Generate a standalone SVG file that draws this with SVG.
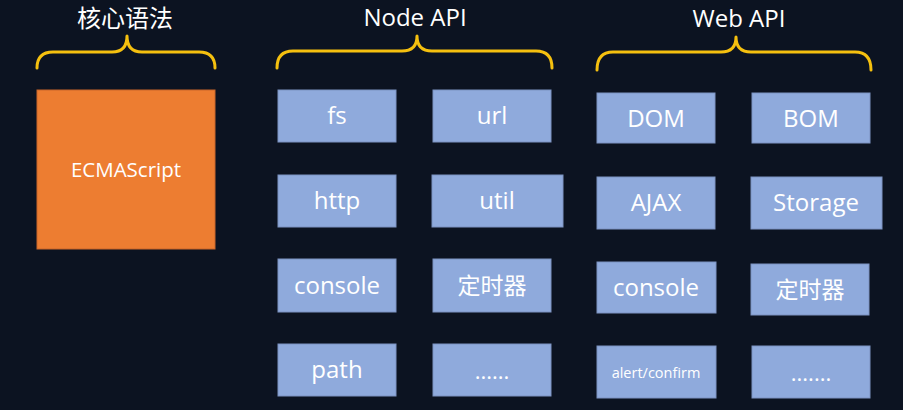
<svg xmlns="http://www.w3.org/2000/svg" width="903" height="410" viewBox="0 0 903 410">
<style>
.t{font-family:"Open Sans","Noto Sans CJK SC",sans-serif;fill:#ffffff;text-anchor:middle}
.title{font-size:24px}
.box{fill:#8faadc;stroke:#7c93c2;stroke-width:1}
.lbl{font-size:24px}
.cjk{font-size:23px}
.dots{font-size:22px}
.br{fill:none;stroke:#f5c00f;stroke-width:3;stroke-linejoin:round;stroke-linecap:round}
</style>
<rect width="903" height="410" fill="#0c1321"/>
<g id="titles">
<text class="t title" x="125" y="27">核心语法</text>
<text class="t title" x="415" y="26">Node API</text>
<text class="t title" x="739" y="27">Web API</text>
</g>
<g id="brackets">
<path class="br" d="M37,68 Q37,52 53,52 L112,52 Q127,52 127,36 Q127,52 142,52 L199,52 Q215,52 215,68"/>
<path class="br" d="M277,68 Q277,51 293,51 L402,51 Q417,51 417,36 Q417,51 432,51 L536,51 Q552,51 552,68"/>
<path class="br" d="M597,70 Q597,52 613,52 L721,52 Q736,52 736,37 Q736,52 751,52 L855,52 Q871,52 871,70"/>
</g>
<g id="connectors"/>
<g id="ecmascript">
<rect x="37" y="90" width="178" height="159" fill="#ed7d31" stroke="#c9672a" stroke-width="1"/>
<text class="t" x="126" y="177" font-size="20.5">ECMAScript</text>
</g>
<g id="node-fs"><rect class="box" x="278" y="90" width="118" height="52"/><text class="t lbl" x="337" y="124">fs</text></g>
<g id="node-url"><rect class="box" x="433" y="90" width="118" height="52"/><text class="t lbl" x="492" y="124">url</text></g>
<g id="node-http"><rect class="box" x="278" y="175" width="118" height="52"/><text class="t lbl" x="337" y="209">http</text></g>
<g id="node-util"><rect class="box" x="432" y="175" width="131" height="52"/><text class="t lbl" x="497" y="209">util</text></g>
<g id="node-console"><rect class="box" x="278" y="259" width="118" height="53"/><text class="t lbl" x="337" y="294">console</text></g>
<g id="node-timer"><rect class="box" x="433" y="259" width="118" height="53"/><text class="t cjk" x="492" y="294">定时器</text></g>
<g id="node-path"><rect class="box" x="278" y="344" width="118" height="52"/><text class="t lbl" x="337" y="378">path</text></g>
<g id="node-more"><rect class="box" x="433" y="344" width="118" height="52"/><text class="t dots" x="492" y="379">......</text></g>
<g id="web-dom"><rect class="box" x="597" y="93" width="118" height="50"/><text class="t lbl" x="656" y="127">DOM</text></g>
<g id="web-bom"><rect class="box" x="752" y="93" width="118" height="50"/><text class="t lbl" x="811" y="127">BOM</text></g>
<g id="web-ajax"><rect class="box" x="597" y="177" width="118" height="52"/><text class="t lbl" x="656" y="211">AJAX</text></g>
<g id="web-storage"><rect class="box" x="751" y="177" width="131" height="52"/><text class="t lbl" x="816" y="211">Storage</text></g>
<g id="web-console"><rect class="box" x="597" y="262" width="119" height="51"/><text class="t lbl" x="656" y="296">console</text></g>
<g id="web-timer"><rect class="box" x="751" y="264" width="118" height="51"/><text class="t cjk" x="810" y="298">定时器</text></g>
<g id="web-alert"><rect class="box" x="597" y="346" width="119" height="52"/><text class="t" x="656" y="378" font-size="14.5">alert/confirm</text></g>
<g id="web-more"><rect class="box" x="752" y="346" width="118" height="52"/><text class="t dots" x="811" y="381">.......</text></g>
</svg>
